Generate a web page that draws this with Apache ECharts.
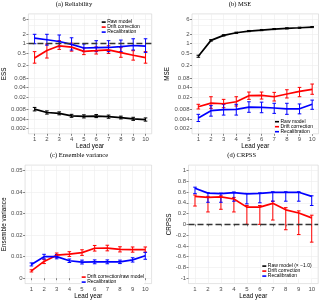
<!DOCTYPE html>
<html><head><meta charset="utf-8">
<script src="https://cdn.jsdelivr.net/npm/echarts@6/dist/echarts.min.js"></script>
<style>html,body{margin:0;padding:0;background:#fff}#c{width:320px;height:300px}</style>
</head><body><div id="c"></div>
<script>
const leadYears = [1,2,3,4,5,6,7,8,9,10];
const logTicks = [0.002,0.004,0.008,0.02,0.04,0.08,0.2,0.5,1,2,4,6];
const evTicks = [0,0.01,0.02,0.03,0.04,0.05];
const crpssTicks = [-1,-0.8,-0.6,-0.4,-0.2,0,0.2,0.4,0.6,0.8,1];

// (a) Reliability (ESS)
const essRaw   = [0.0082,0.0064,0.0060,0.0050,0.0048,0.0049,0.0047,0.0044,0.0040,0.0038];
const essRawLo = [0.0072,0.0057,0.0054,0.0045,0.0043,0.0044,0.0042,0.0040,0.0036,0.0034];
const essRawHi = [0.0093,0.0072,0.0067,0.0056,0.0054,0.0055,0.0053,0.0049,0.0045,0.0043];
const essDrift   = [0.35,0.61,0.86,0.78,0.57,0.60,0.64,0.52,0.43,0.36];
const essDriftLo = [0.24,0.35,0.66,0.58,0.45,0.47,0.49,0.37,0.30,0.24];
const essDriftHi = [0.56,0.98,1.25,1.05,0.74,0.79,0.86,0.75,0.60,0.56];
const essRecal   = [1.50,1.34,1.18,0.95,0.73,0.75,0.76,0.81,0.88,0.84];
const essRecalLo = [1.00,0.90,0.80,0.63,0.56,0.56,0.56,0.56,0.63,0.53];
const essRecalHi = [2.00,2.00,1.90,1.55,0.98,1.25,1.25,1.31,1.44,1.44];

// (b) MSE
const mseRaw   = [0.40,1.28,1.85,2.24,2.54,2.73,2.94,3.10,3.24,3.41];
const mseRawLo = [0.37,1.21,1.76,2.14,2.43,2.61,2.82,2.97,3.10,3.27];
const mseRawHi = [0.43,1.35,1.94,2.34,2.65,2.85,3.06,3.23,3.38,3.55];
const mseDrift   = [0.0098,0.0128,0.0122,0.0141,0.0220,0.0226,0.0204,0.0249,0.0303,0.0351];
const mseDriftLo = [0.0083,0.0087,0.0091,0.0103,0.0168,0.0172,0.0149,0.0186,0.0204,0.0244];
const mseDriftHi = [0.0117,0.0204,0.0168,0.0204,0.0288,0.0288,0.0281,0.0341,0.0405,0.0518];
const mseRecal   = [0.0043,0.0073,0.0079,0.0081,0.0095,0.0094,0.0089,0.0084,0.0084,0.0117];
const mseRecalLo = [0.0033,0.0049,0.0053,0.0053,0.0065,0.0063,0.0060,0.0056,0.0058,0.0081];
const mseRecalHi = [0.0056,0.0106,0.0117,0.0117,0.0141,0.0137,0.0126,0.0126,0.0120,0.0159];

// (c) Ensemble variance
const evDrift   = [0.0034,0.0078,0.0107,0.0112,0.0119,0.0139,0.0140,0.0134,0.0133,0.0133];
const evDriftLo = [0.0029,0.0068,0.0097,0.0101,0.0106,0.0126,0.0127,0.0122,0.0121,0.0121];
const evDriftHi = [0.0039,0.0088,0.0117,0.0123,0.0132,0.0152,0.0153,0.0146,0.0145,0.0145];
const evRecal   = [0.0064,0.0100,0.0100,0.0081,0.0075,0.0076,0.0076,0.0076,0.0085,0.0104];
const evRecalLo = [0.0057,0.0089,0.0090,0.0073,0.0066,0.0067,0.0067,0.0068,0.0075,0.0088];
const evRecalHi = [0.0071,0.0111,0.0110,0.0089,0.0084,0.0085,0.0085,0.0084,0.0095,0.0120];

// (d) CRPSS
const crpssRaw = [];
const crpssDrift   = [0.52,0.50,0.51,0.47,0.32,0.32,0.39,0.27,0.21,0.12];
const crpssDriftLo = [0.34,0.23,0.28,0.23,0.00,0.00,0.08,-0.10,-0.19,-0.33];
const crpssDriftHi = [0.545,0.52,0.53,0.50,0.35,0.35,0.43,0.31,0.25,0.17];
const crpssRecal   = [0.67,0.58,0.57,0.59,0.565,0.575,0.595,0.595,0.595,0.52];
const crpssRecalLo = [0.57,0.41,0.41,0.43,0.38,0.40,0.43,0.43,0.43,0.35];
const crpssRecalHi = [0.69,0.59,0.58,0.60,0.575,0.585,0.605,0.605,0.605,0.53];

const RED = '#ff0000', BLUE = '#0000ff', BLACK = '#000000';
const SANS = 'Liberation Sans', SERIF = 'Liberation Serif';

function lineS(name, color, k, vals, extra) {
  return Object.assign({
    type: 'line', name, xAxisIndex: k, yAxisIndex: k, silent: true,
    data: vals.map((v, i) => [leadYears[i], v]),
    symbol: 'none', lineStyle: { color, width: 1.7 }, itemStyle: { color }, z: 3, animation: false
  }, extra || {});
}
function errS(name, color, k, lo, hi) {
  return {
    type: 'custom', name, xAxisIndex: k, yAxisIndex: k, silent: true, animation: false, z: 2,
    itemStyle: { color },
    data: lo.map((v, i) => [leadYears[i], v, hi[i]]),
    encode: { x: 0, y: [1, 2] },
    renderItem: function (params, api) {
      const x = api.value(0);
      const a = api.coord([x, api.value(1)]);
      const b = api.coord([x, api.value(2)]);
      const w = 1.8;
      const st = { stroke: color, lineWidth: 1 };
      return { type: 'group', children: [
        { type: 'line', shape: { x1: a[0], y1: a[1], x2: b[0], y2: b[1] }, style: st },
        { type: 'line', shape: { x1: a[0] - w, y1: a[1], x2: a[0] + w, y2: a[1] }, style: st },
        { type: 'line', shape: { x1: b[0] - w, y1: b[1], x2: b[0] + w, y2: b[1] }, style: st }
      ]};
    }
  };
}
function dashLine(val) {
  return { silent: true, symbol: 'none', label: { show: false },
    lineStyle: { color: '#333', type: [6, 3], width: 1.4 }, data: [{ yAxis: val }], animation: false };
}
function xAx(k) {
  return {
    type: 'value', gridIndex: k, min: 0.5, max: 10.5,
    name: 'Lead year', nameLocation: 'middle', nameGap: 8.5,
    nameTextStyle: { fontSize: 6.3, color: '#000', fontFamily: SANS },
    axisLine: { show: false },
    axisTick: { show: true, length: 2, customValues: leadYears, lineStyle: { color: '#333', width: 0.6 } },
    axisLabel: { customValues: leadYears, fontSize: 6, color: '#4d4d4d', margin: 2.5, fontFamily: SANS, showMinLabel: true, showMaxLabel: true },
    splitLine: { show: true, lineStyle: { color: '#ececec', width: 0.6 } }
  };
}
function yAx(k, opts, name, gap, ticks, fmt) {
  return Object.assign({
    gridIndex: k, name, nameLocation: 'middle', nameGap: gap,
    nameTextStyle: { fontSize: 6.3, color: '#000', fontFamily: SANS },
    axisLine: { show: false },
    axisTick: { show: true, length: 2, customValues: ticks, lineStyle: { color: '#333', width: 0.6 } },
    axisLabel: { customValues: ticks, fontSize: 6, color: '#4d4d4d', margin: 2.5, fontFamily: SANS, formatter: fmt,
      showMinLabel: true, showMaxLabel: true, hideOverlap: false },
    splitLine: { show: true, lineStyle: { color: '#ececec', width: 0.6 } }
  }, opts);
}
function legend(left, top, names, colors) {
  return {
    orient: 'vertical', left, top, padding: 0, itemGap: 0, itemWidth: 4, itemHeight: 1.6, icon: 'rect',
    selectedMode: false, backgroundColor: '#fff',
    textStyle: { fontSize: 5, lineHeight: 4.3, color: '#000', fontFamily: SANS, padding: [0, 0, 0, -3.5] },
    data: names.map((n, i) => ({ name: n, itemStyle: { color: colors[i] } }))
  };
}
const gridStyle = { show: true, borderColor: '#d0d0d0', borderWidth: 0.6, backgroundColor: '#fff' };
const logFmt = v => String(+v.toPrecision(3));

const chart = echarts.init(document.getElementById('c'), null, { renderer: 'canvas' });
chart.setOption({
  animation: false,
  backgroundColor: '#fff',
  grid: [
    Object.assign({ left: 25, top: 13.9, width: 126.7, height: 119.9 }, gridStyle),
    Object.assign({ left: 192, top: 13.9, width: 126.5, height: 119.9 }, gridStyle),
    Object.assign({ left: 20.1, top: 165.1, width: 131.5, height: 122.1 }, gridStyle),
    Object.assign({ left: 188.5, top: 165.1, width: 129.7, height: 122.1 }, gridStyle)
  ],
  xAxis: [xAx(0), xAx(1), xAx(2), xAx(3)],
  yAxis: [
    yAx(0, { type: 'log', logBase: 10, min: 0.00134, max: 8.95 }, 'ESS', 17, logTicks, logFmt),
    yAx(1, { type: 'log', logBase: 10, min: 0.00134, max: 8.95 }, 'MSE', 19, logTicks, logFmt),
    yAx(2, { type: 'value', min: -0.0025, max: 0.0525 }, 'Ensemble variance', 14, evTicks, v => v === 0 ? '0' : v.toFixed(2)),
    yAx(3, { type: 'value', min: -1.1, max: 1.1 }, 'CRPSS', 15.5, crpssTicks, v => Math.abs(v) < 1e-9 ? '0' : (Math.abs(v) === 1 ? String(v) : v.toFixed(1)))
  ],
  legend: [
    legend(101.7, 19.6, ['Raw model', 'Drift correction', 'Recalibration'], [BLACK, RED, BLUE]),
    legend(275, 119.2, ['Raw model', 'Drift correction', 'Recalibration'], [BLACK, RED, BLUE]),
    legend(81.7, 274.6, ['Drift correction/raw model', 'Recalibration'], [RED, BLUE]),
    legend(262.3, 263.6, ['Raw model (× −1.0)', 'Drift correction', 'Recalibration'], [BLACK, RED, BLUE])
  ],
  graphic: [
    { type: 'text', x: 74, y: 4.2, style: { text: '(a) Reliability', fontSize: 6.5, fontFamily: SERIF, fill: '#000', align: 'center', verticalAlign: 'middle' } },
    { type: 'text', x: 240, y: 4.2, style: { text: '(b) MSE', fontSize: 6.5, fontFamily: SERIF, fill: '#000', align: 'center', verticalAlign: 'middle' } },
    { type: 'text', x: 79, y: 155.7, style: { text: '(c) Ensemble variance', fontSize: 6.5, fontFamily: SERIF, fill: '#000', align: 'center', verticalAlign: 'middle' } },
    { type: 'text', x: 241.7, y: 155.7, style: { text: '(d) CRPSS', fontSize: 6.5, fontFamily: SERIF, fill: '#000', align: 'center', verticalAlign: 'middle' } }
  ],
  series: [
    errS('Raw model', BLACK, 0, essRawLo, essRawHi),
    errS('Drift correction', RED, 0, essDriftLo, essDriftHi),
    errS('Recalibration', BLUE, 0, essRecalLo, essRecalHi),
    lineS('Raw model', BLACK, 0, essRaw),
    lineS('Drift correction', RED, 0, essDrift),
    lineS('Recalibration', BLUE, 0, essRecal, { markLine: dashLine(1) }),

    errS('Raw model', BLACK, 1, mseRawLo, mseRawHi),
    errS('Drift correction', RED, 1, mseDriftLo, mseDriftHi),
    errS('Recalibration', BLUE, 1, mseRecalLo, mseRecalHi),
    lineS('Raw model', BLACK, 1, mseRaw),
    lineS('Drift correction', RED, 1, mseDrift),
    lineS('Recalibration', BLUE, 1, mseRecal),

    errS('Drift correction/raw model', RED, 2, evDriftLo, evDriftHi),
    errS('Recalibration', BLUE, 2, evRecalLo, evRecalHi),
    lineS('Drift correction/raw model', RED, 2, evDrift),
    lineS('Recalibration', BLUE, 2, evRecal),

    lineS('Raw model (× −1.0)', BLACK, 3, crpssRaw),
    errS('Drift correction', RED, 3, crpssDriftLo, crpssDriftHi),
    errS('Recalibration', BLUE, 3, crpssRecalLo, crpssRecalHi),
    lineS('Drift correction', RED, 3, crpssDrift),
    lineS('Recalibration', BLUE, 3, crpssRecal, { markLine: dashLine(0) })
  ]
});
</script>
</body></html>
